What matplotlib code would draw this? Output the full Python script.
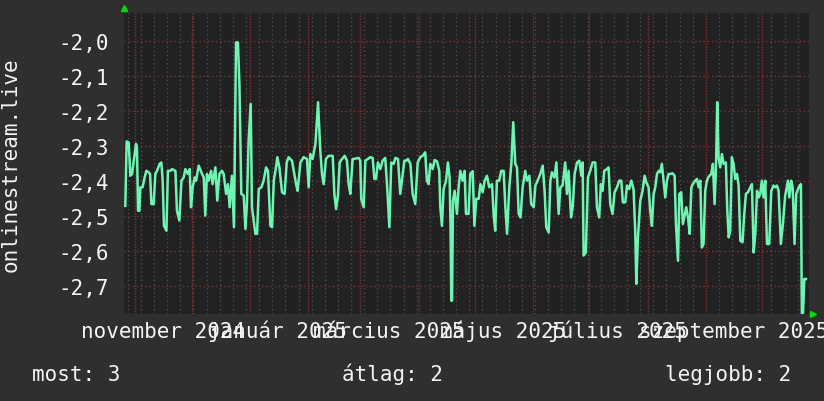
import numpy as np
import pandas as pd
import matplotlib
matplotlib.use('Agg')
import matplotlib.pyplot as plt
import matplotlib.dates as mdates
from matplotlib.transforms import offset_copy, blended_transform_factory

# time axis: one year window
start = pd.Timestamp('2024-10-26')
end = start + pd.Timedelta(days=365)

# day offsets from start
days = [
    0.7, 1.4, 2.5, 3.4, 4.3, 5.2, 6.4, 6.9, 7.5, 8.2, 8.7, 9.9, 11.0, 11.9, 13.1, 13.9,
    14.6, 15.8, 16.7, 17.6, 19.0, 19.9, 20.6, 21.3, 22.6, 23.4, 24.7, 25.6, 27.4, 28.2,
    29.5, 30.6, 31.8, 32.7, 34.1, 35.0, 35.7, 36.6, 37.7, 38.4, 39.8, 41.6, 42.5, 43.3,
    44.2, 45.1, 46.4, 47.2, 48.7, 49.7, 50.8, 52.2, 53.1, 54.4, 55.4, 56.3, 57.5, 58.6,
    59.7, 60.7, 61.5, 62.5, 63.8, 64.7, 65.5, 66.4, 67.5, 68.2, 69.1, 70.0, 70.9, 71.8,
    73.2, 74.4, 75.7, 76.7, 78.0, 78.9, 79.8, 81.0, 81.7, 82.8, 84.2, 85.6, 86.7, 87.7,
    89.5, 91.7, 92.5, 94.0, 95.7, 97.5, 98.4, 99.3, 100.5, 102.0, 103.4, 104.6, 105.5,
    106.4, 107.6, 109.1, 111.2, 112.1, 113.0, 114.0, 114.9, 116.2, 117.6, 118.8, 119.7,
    120.6, 121.8,
    122.4, 125.0, 125.9, 126.4, 127.7, 128.6, 130.0, 131.2, 132.5, 133.4, 134.3, 135.3,
    136.6, 137.8, 139.2, 140.3, 141.4, 142.4, 143.7, 144.6, 146.0, 147.2, 148.1, 149.4,
    150.4, 151.3, 152.6, 153.8, 155.2, 156.5, 157.9, 159.1, 160.5, 161.4, 162.3, 163.2,
    164.5, 165.5, 166.8, 168.0, 168.5, 169.4, 170.3, 171.6, 172.6, 173.5, 174.0, 174.4,
    174.8, 175.3, 176.2, 177.4, 178.3, 179.2, 180.4, 181.5, 182.2, 183.6, 184.5, 185.8,
    186.7, 187.7, 189.0, 189.9, 191.1, 192.2, 193.4, 194.6, 196.1, 197.0, 197.8, 198.7,
    199.9, 201.0, 202.3, 203.2, 204.1, 205.3, 206.4, 207.4, 208.5, 209.4, 210.3, 211.3,
    212.4, 213.8, 214.7, 216.0, 217.0, 218.3, 219.2, 220.4, 221.8, 223.1, 224.1, 225.0,
    226.3, 227.2, 228.0, 229.3, 230.4, 231.6, 232.5, 233.7, 235.1, 236.0, 236.9, 238.2,
    239.1, 240.1, 241.4, 242.6, 243.7, 244.4,
    244.9, 246.1, 247.2, 248.4, 249.7, 251.1, 252.0, 253.2, 254.1, 255.0, 255.9, 257.3,
    258.2, 259.1, 260.3, 261.4, 262.7, 263.9, 265.0, 265.8, 267.1, 268.0, 269.2, 270.3,
    271.5, 272.4, 273.0, 273.8, 275.1, 276.3, 277.4, 278.3, 279.5, 280.4, 281.3, 282.2,
    283.1, 284.0, 284.9, 285.7, 286.6, 287.5, 288.4, 289.3, 290.2, 291.1, 292.3, 293.4,
    294.1, 295.2, 295.9, 296.9, 297.8, 298.7, 299.6, 300.5, 301.4, 302.3, 303.1, 304.4,
    305.3, 306.2, 307.1, 307.9, 308.8, 309.7, 310.6, 311.5, 312.9, 313.8, 314.7, 315.4,
    316.1, 316.8, 317.7, 318.6, 319.5, 320.7, 321.4, 322.2, 323.0, 323.9, 324.8, 325.7,
    326.6, 327.5, 328.4, 329.6, 330.5, 331.4, 332.5, 333.7, 334.6, 335.5, 336.4, 337.3,
    338.2, 339.0, 339.9, 340.8, 341.7, 342.6, 343.8, 344.9, 346.1, 347.0, 347.9, 348.8,
    350.0, 351.1, 352.3, 353.8, 354.5, 355.5, 356.3, 357.3, 358.2, 359.5, 360.7, 361.2,
    361.8, 362.5, 363.4,
]

values = [
    -2.470, -2.286, -2.289, -2.384, -2.379, -2.341, -2.293, -2.303, -2.484, -2.484, -2.417, -2.417, -2.389, -2.370, -2.374, -2.379,
    -2.465, -2.465, -2.379, -2.370, -2.350, -2.346, -2.398, -2.527, -2.541, -2.370, -2.370, -2.365, -2.370, -2.484,
    -2.512, -2.398, -2.389, -2.365, -2.379, -2.365, -2.474, -2.417, -2.389, -2.398, -2.355, -2.379, -2.389, -2.498,
    -2.379, -2.398, -2.370, -2.408, -2.360, -2.455, -2.379, -2.370, -2.379, -2.436, -2.408, -2.474, -2.384, -2.531,
    -2.003, -2.003, -2.122, -2.436, -2.441, -2.536, -2.465, -2.284, -2.179, -2.474, -2.512, -2.550, -2.550, -2.422,
    -2.417, -2.398, -2.360, -2.370, -2.527, -2.531, -2.398, -2.360, -2.331, -2.360, -2.431, -2.436, -2.346, -2.331,
    -2.341, -2.408, -2.427, -2.346, -2.331, -2.336, -2.417, -2.322, -2.336, -2.293, -2.174, -2.312, -2.379,
    -2.408, -2.336, -2.327, -2.327, -2.436, -2.479, -2.441, -2.346, -2.336, -2.327, -2.341, -2.408,
    -2.436, -2.336,
    -2.336, -2.333, -2.341, -2.450, -2.474, -2.341, -2.336, -2.331, -2.333, -2.393, -2.393, -2.346,
    -2.365, -2.341, -2.333, -2.422, -2.531, -2.346, -2.350, -2.333, -2.336, -2.436, -2.398, -2.341,
    -2.341, -2.336, -2.350, -2.436, -2.465, -2.346, -2.331, -2.327, -2.317, -2.398, -2.408, -2.350,
    -2.365, -2.339, -2.343, -2.370, -2.470, -2.527, -2.422, -2.398, -2.346, -2.389, -2.531, -2.741,
    -2.741, -2.455, -2.427, -2.493, -2.417, -2.370, -2.398, -2.370, -2.493, -2.493, -2.379, -2.371,
    -2.527, -2.450, -2.450, -2.408, -2.431, -2.398, -2.384, -2.417, -2.408, -2.498, -2.541, -2.398,
    -2.398, -2.370, -2.370, -2.474, -2.550, -2.417, -2.350, -2.231, -2.350, -2.360, -2.493, -2.503,
    -2.417, -2.370, -2.398, -2.384, -2.465, -2.474, -2.412, -2.398, -2.379, -2.355, -2.427, -2.531,
    -2.546, -2.398, -2.374, -2.389, -2.346, -2.493, -2.417, -2.412, -2.346, -2.436, -2.370, -2.503,
    -2.474, -2.379, -2.346, -2.341, -2.384, -2.346,
    -2.612, -2.603, -2.389, -2.370, -2.346, -2.346, -2.474, -2.503, -2.408, -2.427, -2.370, -2.365,
    -2.360, -2.465, -2.493, -2.431, -2.417, -2.398, -2.398, -2.460, -2.460, -2.412, -2.422, -2.398,
    -2.422, -2.541, -2.693, -2.565, -2.455, -2.427, -2.384, -2.403, -2.417, -2.484, -2.527, -2.436,
    -2.417, -2.379, -2.370, -2.374, -2.350, -2.398, -2.446, -2.398, -2.379, -2.379, -2.377, -2.384,
    -2.522, -2.627, -2.436, -2.431, -2.522, -2.498, -2.474, -2.503, -2.550, -2.417, -2.408, -2.398,
    -2.393, -2.417, -2.398, -2.589, -2.579, -2.427, -2.398, -2.387, -2.379, -2.350, -2.465, -2.370,
    -2.174, -2.331, -2.360, -2.322, -2.350, -2.346, -2.474, -2.560, -2.541, -2.331, -2.350, -2.393,
    -2.379, -2.412, -2.570, -2.574, -2.493, -2.436, -2.431, -2.417, -2.408, -2.603, -2.550, -2.427,
    -2.446, -2.436, -2.398, -2.446, -2.398, -2.579, -2.579, -2.427, -2.412, -2.417, -2.412, -2.427,
    -2.579, -2.522, -2.441, -2.398, -2.446, -2.398, -2.417, -2.579, -2.436, -2.417, -2.408, -2.779,
    -2.779, -2.679, -2.679,
]

label_months = ['2024-11-01', '2025-01-01', '2025-03-01', '2025-05-01', '2025-07-01', '2025-09-01']
label_texts = ['november 2024', 'január 2025', 'március 2025', 'május 2025', 'július 2025', 'szeptember 2025']

y_ticks = [-2.7, -2.6, -2.5, -2.4, -2.3, -2.2, -2.1, -2.0]
y_min, y_max = -2.779, -1.919

series_name = 'onlinestream.live'
legend_names = ['most', 'átlag', 'legjobb']
legend_values = [3, 2, 2]

BG = '#2f2f2f'
PLOT_BG = '#212121'
LINE = '#6ef5b4'
FG = '#f4f4f4'

plt.rcParams['font.family'] = ['DejaVu Sans Mono']
plt.rcParams['font.size'] = 15

W, H = 824, 402
fig = plt.figure(figsize=(W / 100, H / 100), dpi=100, facecolor=BG)
ax = fig.add_axes([124 / W, 87 / H, 685 / W, 301 / H])
ax.set_facecolor(PLOT_BG)

dates = start + pd.to_timedelta(days, unit='D')
ax.plot(dates, values, color=LINE, lw=1.8, zorder=3)

ax.set_xlim(start, end)
ax.set_ylim(y_min, y_max)

# grid: weekly minor, monthly major, 0.1 steps horizontal
ax.xaxis.set_major_locator(mdates.MonthLocator())
ax.xaxis.set_minor_locator(mdates.WeekdayLocator(byweekday=mdates.MO))
ax.xaxis.set_major_formatter(plt.NullFormatter())
ax.xaxis.set_minor_formatter(plt.NullFormatter())
ax.grid(which='minor', axis='x', color='#4e4e4e', lw=1, ls=(0, (1, 2)))
ax.grid(which='major', axis='x', color='#8a3030', lw=1, ls=(0, (1, 1)))
ax.set_yticks(y_ticks)
ax.set_yticklabels([f'{v:.1f}'.replace('.', ',') for v in y_ticks], color=FG)
ax.grid(which='major', axis='y', color='#7a3434', lw=1, ls=(0, (1, 2)))
ax.tick_params(axis='both', which='both', length=0)
ax.tick_params(axis='y', pad=11)
ax.set_axisbelow(True)
for s in ax.spines.values():
    s.set_visible(False)

# month labels centred mid-month, under the plot
tr = blended_transform_factory(ax.transData, ax.transAxes)
for m, txt in zip(label_months, label_texts):
    x = pd.Timestamp(m) + pd.Timedelta(days=15)
    ax.text(x, -23 / 301, txt, transform=tr, ha='center', va='baseline', color=FG)

# axis arrows
ax.plot([0], [1], marker='^', ms=4.5, color='#00dd00', clip_on=False, zorder=5,
        transform=offset_copy(ax.transAxes, fig=fig, x=0.5, y=5, units='dots'))
ax.plot([1], [0], marker='>', ms=4.5, color='#00dd00', clip_on=False, zorder=5,
        transform=offset_copy(ax.transAxes, fig=fig, x=4, y=0, units='dots'))

fig.text(11 / W, 1 - 165 / H, series_name, rotation=90, ha='center', va='center', color=FG)

for x0, name, val in zip([32, 342, 665], legend_names, legend_values):
    fig.text(x0 / W, 21 / H, f'{name}: {val}', ha='left', va='baseline', color=FG)

fig.savefig('out.png', dpi=100, facecolor=BG)
